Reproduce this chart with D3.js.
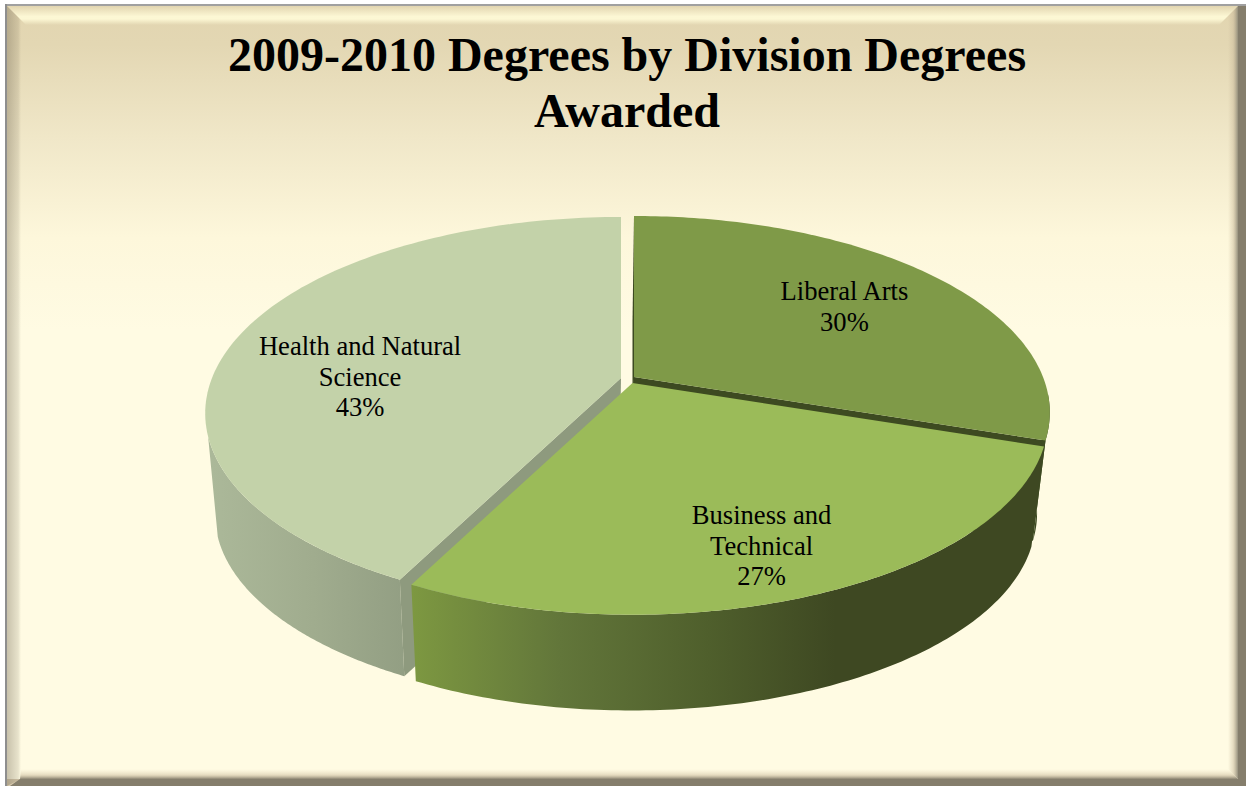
<!DOCTYPE html>
<html>
<head>
<meta charset="utf-8">
<script src="https://cdn.jsdelivr.net/npm/d3@7"></script>
<style>
  html, body { margin: 0; padding: 0; background: #fff; }
  svg { display: block; }
  text { font-family: "Liberation Serif", "Times New Roman", serif; fill: #000; }
</style>
</head>
<body>
<div id="chart"></div>
<script>
// values, the labels round them to 30 / 27 / 43
const titleLines = ['2009-2010 Degrees by Division Degrees', 'Awarded'];
const categories = ['Liberal Arts', 'Business and Technical', 'Health and Natural Science'];
const labelLines = [['Liberal Arts'], ['Business and', 'Technical'], ['Health and Natural', 'Science']];
const shares = [30.1, 27.4, 42.5];

const topColors = ['#7F9A48', '#9BBB59', '#C3D2A9'];
const cutColors = ['#3D4A21', '#3D4A21', '#8E9A7E'];

const width = 1246;
const height = 786;

// apex of each exploded slice, and a small nudge for the label
const apex = [{ x: 634, y: 377 }, { x: 632.5, y: 383 }, { x: 621, y: 378 }];
const labelNudge = [{ x: 0, y: 1 }, { x: 10, y: 29 }, { x: 2, y: 29 }];

// the pie is a tilted disc seen in perspective: back rim is flatter than the front
const radiusX = 409;
const radiusY = 190;
const perspective = 0.18;
const wallDrop = 102;
const wallShrink = 0.973;

function project(slice, angle, r, lower) {
	const c = Math.cos(angle);
	const w = 1 + perspective * r * c;
	const px = radiusX * r * Math.sin(angle) / w;
	const py = -radiusY * r * c / w;
	if (lower) {
		return [apex[slice].x + px * wallShrink - 1.5, apex[slice].y + wallDrop + py * wallShrink];
	}
	return [apex[slice].x + px, apex[slice].y + py];
}

const svg = d3.select('#chart').append('svg')
	.attr('width', width)
	.attr('height', height);
const defs = svg.append('defs');

function addGradient(id, x1, y1, x2, y2, stops) {
	defs.append('linearGradient')
		.attr('id', id)
		.attr('gradientUnits', 'userSpaceOnUse')
		.attr('x1', x1).attr('y1', y1).attr('x2', x2).attr('y2', y2)
		.selectAll('stop')
		.data(stops)
		.enter()
		.append('stop')
		.attr('offset', d => d[0])
		.attr('stop-color', d => d[1])
		.attr('stop-opacity', d => d[2] === undefined ? 1 : d[2]);
}

addGradient('bg', 0, 6, 0, 779, [[0, '#E2D5B0'], [0.05, '#E3D7B3'], [0.17, '#F0E7C8'], [0.3, '#FDF7DB'], [0.42, '#FFFBE3'], [1, '#FFFBE3']]);
addGradient('wall-business', 412, 0, 835, 0, [[0, '#7D9841'], [0.35, '#62763A'], [0.7, '#4F5F2C'], [1, '#3E4822']]);
addGradient('wall-health', 212, 0, 415, 0, [[0, '#ABB899'], [0.5, '#A0AC8E'], [1, '#919D82']]);
addGradient('bevel-top', 0, 6, 0, 25, [[0, '#FFFBD8', 0], [0.55, '#FFFBD8', 0.9], [0.68, '#FFFBD8', 0.9], [1, '#FFFBD8', 0]]);
addGradient('bevel-left', 7, 0, 21, 0, [[0, '#6E6450', 0.38], [0.8, '#6E6450', 0.16], [1, '#6E6450', 0]]);
addGradient('bevel-right', 1228, 0, 1238, 0, [[0, '#C9B99A', 0], [0.5, '#C9B99A', 0.45], [1, '#8F8A78', 0.95]]);
addGradient('bevel-bottom', 0, 769, 0, 779, [[0, '#E3D3B0', 0], [0.6, '#C9B99A', 0.5], [1, '#857E6C', 0.95]]);

// chart area with its bevelled frame
svg.append('rect')
	.attr('x', 5).attr('y', 4)
	.attr('width', width - 5).attr('height', height - 4)
	.attr('fill', '#857E6C');
svg.append('rect')
	.attr('x', 5).attr('y', 4)
	.attr('width', width - 5).attr('height', 2)
	.attr('fill', '#A0A0A0');
svg.append('rect')
	.attr('x', 5).attr('y', 4)
	.attr('width', 2).attr('height', height - 4)
	.attr('fill', '#8E8E8E');
svg.append('rect')
	.attr('x', 7).attr('y', 6)
	.attr('width', 1231).attr('height', 773)
	.attr('fill', 'url(#bg)');
// lower left corner of the bevel runs out to the page edge
svg.append('polygon')
	.attr('points', '7,779 20,779 10,786 7,786')
	.attr('fill', '#D8CBAE');

const bevel = svg.append('g');
bevel.append('polygon')
	.attr('points', '7,6 1238,6 1219,25 26,25')
	.attr('fill', 'url(#bevel-top)');
bevel.append('polygon')
	.attr('points', '7,6 21,20 21,779 7,786')
	.attr('fill', 'url(#bevel-left)');
bevel.append('polygon')
	.attr('points', '1238,6 1228,16 1228,769 1238,779')
	.attr('fill', 'url(#bevel-right)');
bevel.append('polygon')
	.attr('points', '20,779 21,769 1228,769 1238,779')
	.attr('fill', 'url(#bevel-bottom)');

// title
svg.append('g')
	.selectAll('text')
	.data(titleLines)
	.enter()
	.append('text')
	.attr('x', 627)
	.attr('y', (d, i) => 71 + i * 56)
	.attr('text-anchor', 'middle')
	.style('font-size', '48px')
	.style('font-weight', 'bold')
	.text(d => d);

// pie angles come from d3, 0 is straight up and it runs clockwise
const pie = d3.pie().sort(null).value(d => d);
const arcs = pie(shares);
const line = d3.line();

function rim(slice, a0, a1, lower) {
	const n = 120;
	return d3.range(n + 1).map(i => project(slice, a0 + (a1 - a0) * i / n, 1, lower));
}

function topFace(i) {
	return line([[apex[i].x, apex[i].y]].concat(rim(i, arcs[i].startAngle, arcs[i].endAngle, false))) + 'Z';
}

function outerWall(i, a0, a1) {
	return line(rim(i, a0, a1, false).concat(rim(i, a1, a0, true))) + 'Z';
}

function cutFace(i, angle) {
	return line([
		project(i, angle, 0, false),
		project(i, angle, 1, false),
		project(i, angle, 1, true),
		project(i, angle, 0, true)
	]) + 'Z';
}

// painted back to front: arts, then health, business sits in front of both
const pieGroup = svg.append('g');
const deg = Math.PI / 180;

pieGroup.append('path').attr('d', cutFace(0, arcs[0].startAngle)).attr('fill', cutColors[0]);
pieGroup.append('path').attr('d', cutFace(0, arcs[0].endAngle)).attr('fill', cutColors[0]);
pieGroup.append('path').attr('d', outerWall(0, 95 * deg, arcs[0].endAngle)).attr('fill', cutColors[0]);
pieGroup.append('path').attr('d', topFace(0)).attr('fill', topColors[0]);

// only the front part of the health wall shows, it stops at the left side of the disc
pieGroup.append('path').attr('d', outerWall(2, arcs[2].startAngle, 253 * deg)).attr('fill', 'url(#wall-health)');
pieGroup.append('path').attr('d', cutFace(2, arcs[2].startAngle)).attr('fill', cutColors[2]);
pieGroup.append('path').attr('d', topFace(2)).attr('fill', topColors[2]);

pieGroup.append('path').attr('d', outerWall(1, arcs[1].startAngle, arcs[1].endAngle)).attr('fill', 'url(#wall-business)');
pieGroup.append('path').attr('d', topFace(1)).attr('fill', topColors[1]);

// data labels, name lines and then the rounded percentage
const labelGroups = svg.append('g')
	.selectAll('text')
	.data(arcs)
	.enter()
	.append('text')
	.attr('aria-label', (d, i) => categories[i])
	.attr('text-anchor', 'middle')
	.style('font-size', '26.6px');

labelGroups.each(function (d, i) {
	const mid = (d.startAngle + d.endAngle) / 2;
	const pos = project(i, mid, 0.68, false);
	const lines = labelLines[i].concat(Math.round(d.value) + '%');
	const cx = pos[0] + labelNudge[i].x;
	const cy = pos[1] + labelNudge[i].y;
	d3.select(this).selectAll('tspan')
		.data(lines)
		.enter()
		.append('tspan')
		.attr('x', cx)
		.attr('y', (t, j) => cy + 8 + (j - (lines.length - 1) / 2) * 30.5)
		.text(t => t);
});
</script>
</body>
</html>
